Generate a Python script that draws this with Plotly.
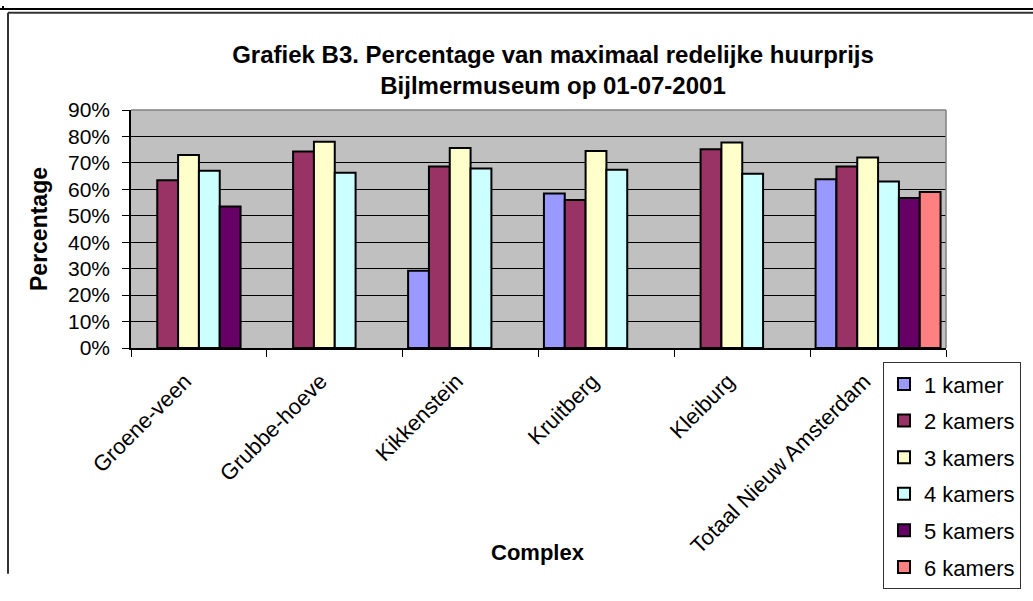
import plotly.graph_objects as go

# data
complexen = ["Groene-veen", "Grubbe-hoeve", "Kikkenstein", "Kruitberg", "Kleiburg",
             "Totaal Nieuw Amsterdam"]
kamers_1 = [None, None, 29.2, 58.4, None, 63.8]
kamers_2 = [63.4, 74.3, 68.6, 56.0, 75.2, 68.6]
kamers_3 = [73.0, 78.0, 75.6, 74.5, 77.7, 72.0]
kamers_4 = [67.0, 66.3, 67.9, 67.4, 65.9, 63.0]
kamers_5 = [53.5, None, None, None, None, 56.7]
kamers_6 = [None, None, None, None, None, 59.0]

series = [
    ("1 kamer", kamers_1, "#9999FF"),
    ("2 kamers", kamers_2, "#993366"),
    ("3 kamers", kamers_3, "#FFFFCC"),
    ("4 kamers", kamers_4, "#CCFFFF"),
    ("5 kamers", kamers_5, "#660066"),
    ("6 kamers", kamers_6, "#FF8080"),
]

W, H = 1033, 601
L, R, T, B = 131, 87, 110, 239
pw, ph = W - L - R, H - T - B


def px(x):
    return (x - L) / pw


def py(y):
    return (H - B - y) / ph


fig = go.Figure()
for name, vals, col in series:
    fig.add_trace(go.Bar(
        x=complexen, y=[v / 100 if v is not None else None for v in vals],
        name=name, legendgroup=name,
        marker=dict(color=col, line=dict(color="black", width=2)),
    ))

font = "Liberation Sans, Arial, sans-serif"

# frame of the document page + plot area border (top/right gray)
shapes = [
    dict(type="line", xref="paper", yref="paper", x0=px(0), x1=px(W), y0=py(3), y1=py(3),
         line=dict(color="black", width=2)),
    dict(type="line", xref="paper", yref="paper", x0=px(3), x1=px(3), y0=py(0), y1=py(3),
         line=dict(color="black", width=2)),
    dict(type="line", xref="paper", yref="paper", x0=px(8), x1=px(W), y0=py(7), y1=py(7),
         line=dict(color="#333333", width=2)),
    dict(type="line", xref="paper", yref="paper", x0=px(8), x1=px(8), y0=py(7), y1=py(H),
         line=dict(color="#333333", width=2)),
    dict(type="line", xref="paper", yref="paper", x0=0, x1=1, y0=1, y1=1,
         line=dict(color="#808080", width=1.5)),
    dict(type="line", xref="paper", yref="paper", x0=1, x1=1, y0=0, y1=1,
         line=dict(color="#808080", width=1.5)),
]

annotations = [
    dict(text="<b>Complex</b>", xref="paper", yref="paper", x=px(538), y=py(579),
         xanchor="center", yanchor="middle", showarrow=False,
         font=dict(family=font, size=22, color="black")),
    dict(text="<b>Percentage</b>", xref="paper", yref="paper", x=px(39), y=py(236),
         xanchor="center", yanchor="middle", showarrow=False, textangle=-90,
         font=dict(family=font, size=23, color="black")),
]

fig.update_layout(
    width=W, height=H,
    margin=dict(l=L, r=R, t=T, b=B),
    paper_bgcolor="white",
    plot_bgcolor="#C0C0C0",
    barmode="group", bargap=0.08, bargroupgap=0,
    font=dict(family=font, size=21, color="black"),
    title=dict(
        text="<b>Grafiek B3. Percentage van maximaal redelijke huurprijs<br>Bijlmermuseum op 01-07-2001</b>",
        x=px(553), xref="paper", xanchor="center",
        y=1 - 63 / H, yanchor="middle",
        font=dict(family=font, size=24, color="black"),
    ),
    xaxis=dict(
        tickangle=-45, tickson="boundaries", ticks="outside", ticklen=7,
        tickcolor="black", showline=True, linecolor="black", linewidth=1.5,
        showgrid=False, tickfont=dict(size=22),
        ticklabelshift=-14, ticklabelstandoff=10,
        automargin=False,
    ),
    yaxis=dict(
        range=[0, 0.9], dtick=0.1, tickformat=".0%", ticks="outside", ticklen=7,
        tickcolor="black", showline=True, linecolor="black", linewidth=1.5,
        showgrid=True, gridcolor="black", gridwidth=1, zeroline=False,
        tickfont=dict(size=21), ticklabelstandoff=8,
        automargin=False,
    ),
    legend=dict(
        x=px(883), y=py(377), xanchor="left", yanchor="top",
        bgcolor="white", bordercolor="#333333", borderwidth=1,
        font=dict(size=22), traceorder="grouped", tracegroupgap=5,
        itemwidth=30,
    ),
    shapes=shapes,
    annotations=annotations,
)

fig.write_html("out.html", config={"displayModeBar": False},
               post_script="document.body.style.margin='0';")
